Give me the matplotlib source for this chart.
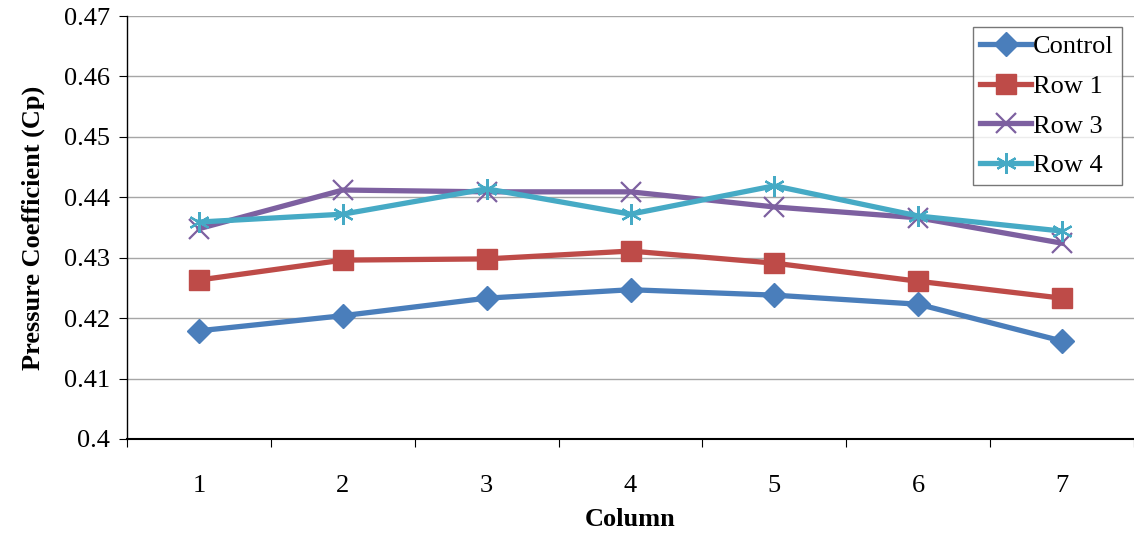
import matplotlib
matplotlib.use('Agg')
import matplotlib.pyplot as plt
import numpy as np

plt.rcParams['font.family'] = ['Liberation Serif', 'DejaVu Serif']

# Data
columns = [1, 2, 3, 4, 5, 6, 7]
control = [0.4179, 0.4204, 0.4233, 0.4247, 0.4238, 0.4223, 0.4162]
row1 = [0.4263, 0.4296, 0.4298, 0.4311, 0.4291, 0.4261, 0.4233]
row3 = [0.4348, 0.4412, 0.4409, 0.4409, 0.4384, 0.4366, 0.4324]
row4 = [0.4359, 0.4372, 0.4414, 0.4372, 0.4419, 0.4369, 0.4344]
y_ticks = [0.4, 0.41, 0.42, 0.43, 0.44, 0.45, 0.46, 0.47]
y_ticklabels = ['0.4', '0.41', '0.42', '0.43', '0.44', '0.45', '0.46', '0.47']

fig = plt.figure(figsize=(11.34, 5.34), dpi=100)
ax = fig.add_axes([0.112, 0.178, 0.888, 0.792])

ax.plot(columns, control, color='#4a7ebb', lw=3.8, marker='D', ms=12, label='Control', zorder=3)
ax.plot(columns, row1, color='#be4b48', lw=3.8, marker='s', ms=14, label='Row 1', zorder=3)
ax.plot(columns, row3, color='#7d60a0', lw=3.8, marker='x', ms=14, mew=1.6, label='Row 3', zorder=3)
ax.plot(columns, row4, color='#46aac5', lw=3.8, marker=(6, 2, 0), ms=15, mew=1.6, label='Row 4', zorder=3)

ax.set_xlim(0.5, 7.46)
ax.set_ylim(0.4, 0.47)
ax.set_yticks(y_ticks)
ax.set_yticklabels(y_ticklabels)
ax.set_xticks(columns)
ax.set_xticks(np.arange(0.5, 7.6, 1), minor=True)
ax.tick_params(axis='x', which='major', length=0, pad=26, labelsize=19)
ax.tick_params(axis='x', which='minor', length=6, direction='out', width=0.8)
ax.tick_params(axis='y', length=6, direction='out', width=0.8, labelsize=19, pad=6)

ax.grid(axis='y', color='#a6a6a6', lw=1.0)
ax.set_axisbelow(True)
for side in ['top', 'right']:
    ax.spines[side].set_visible(False)
ax.spines['left'].set_linewidth(1.0)
ax.spines['bottom'].set_linewidth(1.5)

ax.set_xlabel('Column', fontsize=19, fontweight='bold', labelpad=8)
ax.set_ylabel('Pressure Coefficient (Cp)', fontsize=19, fontweight='bold', labelpad=14)

leg = ax.legend(loc='upper right', bbox_to_anchor=(0.988, 0.975), fontsize=19,
                frameon=True, fancybox=False, edgecolor='#555555',
                handlelength=1.9, handletextpad=0.1, borderpad=0.3, labelspacing=0.62,
                borderaxespad=0)
leg.get_frame().set_linewidth(1.0)

fig.savefig('out.png', dpi=100)
